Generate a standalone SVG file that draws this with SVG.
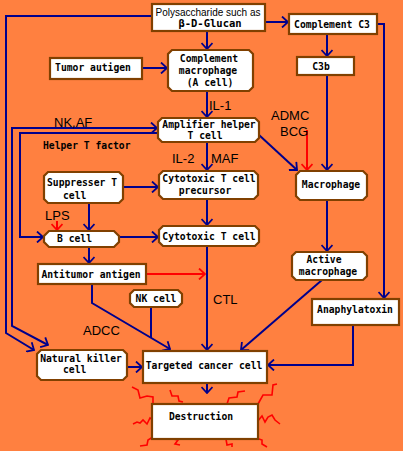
<svg xmlns="http://www.w3.org/2000/svg" width="403" height="451" viewBox="0 0 403 451">
<style>
.bx{fill:#fff;stroke:#804000;stroke-width:2.2}
.t{font-family:"DejaVu Sans Mono","Liberation Mono",monospace;font-weight:bold;font-size:9.7px;fill:#000;text-anchor:middle}
.ts{font-family:"DejaVu Sans Mono","Liberation Mono",monospace;font-weight:bold;font-size:9.7px;fill:#000}
.p{font-family:"Liberation Sans",Arial,sans-serif;font-size:10px;fill:#000;text-anchor:middle}
.l{font-family:"Liberation Sans",Arial,sans-serif;font-size:13px;fill:#000}
.c{fill:none;stroke:#00008B;stroke-width:2}
.r{fill:none;stroke:#FF0000;stroke-width:2}
.z{fill:none;stroke:#FF0000;stroke-width:1.6}
</style>
<defs>
<marker id="a" markerWidth="10" markerHeight="12" refX="9" refY="6" orient="auto-start-reverse" markerUnits="userSpaceOnUse" viewBox="0 0 10 12"><path d="M3,0.5 L9,6 L3,11.5" fill="none" stroke="#00008B" stroke-width="1.8"/></marker>
<marker id="ar" markerWidth="10" markerHeight="12" refX="9" refY="6" orient="auto" markerUnits="userSpaceOnUse" viewBox="0 0 10 12"><path d="M3,0.5 L9,6 L3,11.5" fill="none" stroke="#FF0000" stroke-width="1.8"/></marker>
</defs>
<rect width="403" height="451" fill="#FF8040"/>
<g id="connectors">
<path class="c" d="M265,22 H288" marker-end="url(#a)"/>
<path class="c" d="M207,31 V49" marker-end="url(#a)"/>
<path class="c" d="M152,16 H6 V333 L34,350" marker-end="url(#a)"/>
<path class="c" d="M48,345 L12,326 V128 H157" marker-start="url(#a)" marker-end="url(#a)"/>
<path class="c" d="M158,133 H20 V237 H43" marker-end="url(#a)"/>
<path class="c" d="M142,68 H167" marker-end="url(#a)"/>
<path class="c" d="M207,91 V117" marker-end="url(#a)"/>
<path class="c" d="M207,142 V170" marker-end="url(#a)"/>
<path class="c" d="M259,135 L297,170" marker-end="url(#a)"/>
<path class="c" d="M327,34 V56" marker-end="url(#a)"/>
<path class="c" d="M327,75 V170" marker-end="url(#a)"/>
<path class="c" d="M377,24 H384 V298" marker-end="url(#a)"/>
<path class="r" d="M307,130 V170" marker-end="url(#ar)"/>
<path class="c" d="M123,187 H158" marker-end="url(#a)"/>
<path class="c" d="M89,203 V230" marker-end="url(#a)"/>
<path class="r" d="M57,221 V230" marker-end="url(#ar)"/>
<path class="c" d="M119,237 H158" marker-end="url(#a)"/>
<path class="c" d="M89,247 V263" marker-end="url(#a)"/>
<path class="c" d="M207,199 V225" marker-end="url(#a)"/>
<path class="c" d="M207,246 V350" marker-end="url(#a)"/>
<path class="r" d="M146,274 H205" marker-end="url(#ar)"/>
<path class="c" d="M92,284 V303 L170,349" marker-end="url(#a)"/>
<path class="c" d="M151,307 V338"/>
<path class="c" d="M327,200 V251" marker-end="url(#a)"/>
<path class="c" d="M322,280 L241,350" marker-end="url(#a)"/>
<path class="c" d="M353,325 V365 H268" marker-end="url(#a)"/>
<path class="c" d="M127,367 H142" marker-end="url(#a)"/>
<path class="c" d="M207,383 V393" marker-end="url(#a)"/>
</g>
<g id="sparks">
<polyline class="z" points="132,387 138,390 140,398 147,396 153,397 153,404"/>
<polyline class="z" points="170,390 172,396 178,396 179,401 183,402"/>
<polyline class="z" points="227,404 229,398 237,397 238,392 245,391"/>
<polyline class="z" points="258,404 263,395 272,395 273,385 277,384"/>
<polyline class="z" points="257,422 262,416 265,422 268,417 272,415 275,420 280,424"/>
<polyline class="z" points="256,438 262,440 262,444 267,447"/>
<polyline class="z" points="226,439 227,445 232,444 232,447"/>
<polyline class="z" points="173,439 178,440 175,444 180,445"/>
<polyline class="z" points="153,437 148,440 147,445 140,446"/>
<polyline class="z" points="153,420 150,418 147,424 143,420 140,423 137,422 133,424"/>
</g>
<g id="polysaccharide"><rect class="bx" x="152" y="4" width="113" height="27"/><text class="p" x="208" y="16">Polysaccharide such as</text><text class="t" x="210" y="27" style="font-size:10.5px">β-D-Glucan</text></g>
<g id="complement-c3"><rect class="bx" x="289" y="14" width="88" height="20"/><text class="t" x="332" y="28">Complement C3</text></g>
<g id="c3b"><rect class="bx" x="297" y="57" width="57" height="18"/><text class="t" x="321" y="70">C3b</text></g>
<g id="tumor-autigen"><rect class="bx" x="50" y="58" width="92" height="21"/><text class="t" x="93" y="71">Tumor autigen</text></g>
<g id="complement-macrophage"><polygon class="bx" points="172,50 249,50 253,54 253,87 249,91 172,91 168,87 168,54"/><text class="t" x="209" y="62">Complement</text><text class="t" x="208" y="74">macrophage</text><text class="t" x="210" y="86">(A cell)</text></g>
<g id="amplifier-helper"><polygon class="bx" points="162,118 255,118 259,122 259,138 255,142 162,142 158,138 158,122"/><text class="t" x="209" y="128">Amplifier helper</text><text class="t" x="205" y="139">T cell</text></g>
<g id="suppresser"><polygon class="bx" points="48,172 119,172 123,176 123,199 119,203 48,203 44,199 44,176"/><text class="t" x="82" y="186">Suppresser T</text><text class="ts" x="63" y="199">cell</text></g>
<g id="ct-precursor"><polygon class="bx" points="163,171 254,171 258,175 258,195 254,199 163,199 159,195 159,175"/><text class="t" x="209" y="182">Cytotoxic T cell</text><text class="t" x="205" y="194">precursor</text></g>
<g id="b-cell"><polygon class="bx" points="49,231 114,231 119,236 119,242 114,247 49,247 44,242 44,236"/><text class="ts" x="57" y="242">B cell</text></g>
<g id="cytotoxic-t"><polygon class="bx" points="163,226 255,226 259,230 259,242 255,246 163,246 159,242 159,230"/><text class="t" x="209" y="240">Cytotoxic T cell</text></g>
<g id="antitumor-antigen"><rect class="bx" x="38" y="264" width="108" height="20"/><text class="t" x="91" y="278">Antitumor antigen</text></g>
<g id="macrophage"><polygon class="bx" points="300,171 363,171 367,175 367,196 363,200 300,200 296,196 296,175"/><text class="t" x="331" y="188">Macrophage</text></g>
<g id="active-macrophage"><polygon class="bx" points="296,252 363,252 367,256 367,276 363,280 296,280 292,276 292,256"/><text class="t" x="324" y="263">Active</text><text class="t" x="328" y="275">macrophage</text></g>
<g id="nk-cell"><polygon class="bx" points="134,290 178,290 182,294 182,303 178,307 134,307 130,303 130,294"/><text class="t" x="156" y="302">NK cell</text></g>
<g id="natural-killer"><polygon class="bx" points="41,350 123,350 127,354 127,376 123,380 41,380 37,376 37,354"/><text class="t" x="81" y="362">Natural killer</text><text class="ts" x="63" y="373">cell</text></g>
<g id="targeted"><rect class="bx" x="143" y="351" width="124" height="32"/><text class="t" x="204" y="369">Targeted cancer cell</text></g>
<g id="anaphylatoxin"><rect class="bx" x="312" y="299" width="87" height="26"/><text class="t" x="355" y="313">Anaphylatoxin</text></g>
<g id="destruction"><rect class="bx" x="152" y="404" width="106" height="35"/><text class="t" x="201" y="420">Destruction</text></g>
<g id="labels">
<text class="l" x="54" y="127">NK,AF</text>
<text class="ts" x="43" y="149">Helper T factor</text>
<text class="l" x="209" y="110">IL-1</text>
<text class="l" x="271" y="120">ADMC</text>
<text class="l" x="280" y="136">BCG</text>
<text class="l" x="172" y="163">IL-2</text>
<text class="l" x="211" y="163">MAF</text>
<text class="l" x="45" y="220">LPS</text>
<text class="l" x="213" y="304">CTL</text>
<text class="l" x="83" y="335">ADCC</text>
</g>
</svg>
